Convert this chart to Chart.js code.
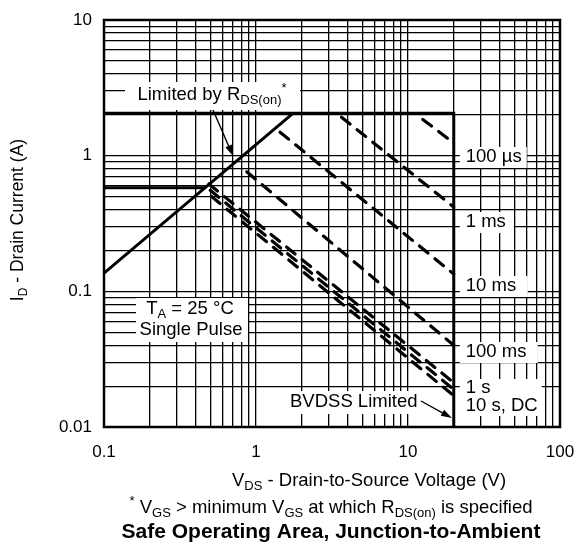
<!DOCTYPE html>
<html>
<head>
<meta charset="utf-8">
<script src="https://cdn.jsdelivr.net/npm/chart.js@4.4.1/dist/chart.umd.min.js"></script>
<style>
  html, body { margin: 0; padding: 0; background: #fff; }
  canvas { display: block; }
</style>
</head>
<body>
<canvas id="soa" width="577" height="546"></canvas>
<script>
// axis ticks
const xTickValues = [0.1, 1, 10, 100];
const xTickLabels = ["0.1", "1", "10", "100"];
const yTickValues = [0.01, 0.1, 1, 10];
const yTickLabels = ["0.01", "0.1", "1", "10"];

// limit lines (V, A)
const rdsV = [0.1, 1.75];
const rdsI = [0.136, 2.05];
const limitV = [0.1, 20, 20];
const limitI = [2.05, 2.05, 0.01];
const dcLimitV = [0.1, 0.46];
const dcLimitI = [0.58, 0.58];

// pulse lines
const pulseNames = ["100 µs", "1 ms", "10 ms", "100 ms", "1 s", "10 s", "DC"];
const pulseStartV = [12.5, 3.65, 1.44, 0.87, 0.49, 0.50, 0.51];
const pulseStartI = [1.85, 1.92, 1.49, 0.76, 0.618, 0.555, 0.50];
const pulseEndV = [20, 20, 20, 20, 20, 20, 20];
const pulseEndI = [1.24, 0.418, 0.134, 0.040, 0.0212, 0.0189, 0.0170];

const FONT = '"Liberation Sans", Arial, Helvetica, sans-serif';

function pts(xs, ys) {
  return xs.map((x, i) => ({ x: x, y: ys[i] }));
}

function solid(xs, ys) {
  return {
    data: pts(xs, ys), showLine: true, pointRadius: 0,
    borderColor: "#000", borderWidth: 3, borderCapStyle: "butt"
  };
}

const datasets = [solid(rdsV, rdsI), solid(limitV, limitI), solid(dcLimitV, dcLimitI)];
pulseNames.forEach((name, i) => {
  datasets.push({
    label: name,
    data: pts([pulseStartV[i], pulseEndV[i]], [pulseStartI[i], pulseEndI[i]]),
    showLine: true, pointRadius: 0,
    borderColor: "#000", borderWidth: 3.2,
    borderDash: [11, 9], borderCapStyle: "round"
  });
});

// 1..9 per decade grid
function logGrid(scale) {
  const ticks = [];
  const e0 = Math.round(Math.log10(scale.min));
  const e1 = Math.round(Math.log10(scale.max));
  for (let e = e0; e < e1; e++) {
    for (let k = 1; k < 10; k++) ticks.push({ value: Number((k * Math.pow(10, e)).toPrecision(3)) });
  }
  ticks.push({ value: scale.max });
  scale.ticks = ticks;
}

function tickLabel(values, labels) {
  return function (v) {
    const i = values.findIndex(t => Math.abs(t - v) < t * 1e-6);
    return i >= 0 ? labels[i] : "";
  };
}

// text with sub/superscripts
function drawRuns(ctx, runs, x, y, size, align, weight) {
  const small = Math.round(size * 0.7);
  const w = weight || "normal";
  let total = 0;
  runs.forEach(r => {
    ctx.font = w + " " + (r.s ? small : size) + "px " + FONT;
    total += ctx.measureText(r.t).width;
  });
  let cx = align === "center" ? x - total / 2 : align === "right" ? x - total : x;
  ctx.textAlign = "left";
  ctx.textBaseline = "middle";
  ctx.fillStyle = "#000";
  runs.forEach(r => {
    ctx.font = w + " " + (r.s ? small : size) + "px " + FONT;
    const dy = r.s === "sub" ? size * 0.32 : r.s === "sup" ? -size * 0.38 : 0;
    ctx.fillText(r.t, cx, y + dy);
    cx += ctx.measureText(r.t).width;
  });
}

function box(ctx, l, t, r, b) {
  ctx.fillStyle = "#fff";
  ctx.fillRect(l, t, r - l, b - t);
}

function arrow(ctx, x0, y0, x1, y1) {
  const a = Math.atan2(y1 - y0, x1 - x0);
  const len = 11, half = 3.5;
  ctx.strokeStyle = "#000";
  ctx.lineWidth = 1.4;
  ctx.beginPath();
  ctx.moveTo(x0, y0);
  ctx.lineTo(x1 - Math.cos(a) * len * 0.8, y1 - Math.sin(a) * len * 0.8);
  ctx.stroke();
  ctx.fillStyle = "#000";
  ctx.beginPath();
  ctx.moveTo(x1, y1);
  ctx.lineTo(x1 - Math.cos(a) * len - Math.sin(a) * half, y1 - Math.sin(a) * len + Math.cos(a) * half);
  ctx.lineTo(x1 - Math.cos(a) * len + Math.sin(a) * half, y1 - Math.sin(a) * len - Math.cos(a) * half);
  ctx.closePath();
  ctx.fill();
}

const notes = {
  id: "notes",
  afterDraw(chart) {
    const ctx = chart.ctx;
    const a = chart.chartArea;
    ctx.save();

    // frame
    ctx.strokeStyle = "#000";
    ctx.lineWidth = 2.5;
    ctx.strokeRect(a.left, a.top, a.right - a.left, a.bottom - a.top);

    const f = 18.5;
    // Limited by RDS(on)*
    box(ctx, 125, 82, 300, 110);
    drawRuns(ctx, [{ t: "Limited by R" }, { t: "DS(on)", s: "sub" }, { t: "*", s: "sup" }], 212, 95, f, "center");
    arrow(ctx, 213, 110, 233, 156);

    // pulse labels
    const lx = chart.scales.x.getPixelForValue(20) + 12;
    box(ctx, lx - 6, 147, lx + 61, 168);
    drawRuns(ctx, [{ t: "100 µs" }], lx, 157, f, "left");
    box(ctx, lx - 6, 212, lx + 48, 233);
    drawRuns(ctx, [{ t: "1 ms" }], lx, 222, f, "left");
    box(ctx, lx - 6, 276, lx + 62, 297);
    drawRuns(ctx, [{ t: "10 ms" }], lx, 286, f, "left");
    box(ctx, lx - 6, 342, lx + 72, 363);
    drawRuns(ctx, [{ t: "100 ms" }], lx, 352, f, "left");
    box(ctx, lx - 6, 379, lx + 76, 416);
    drawRuns(ctx, [{ t: "1 s" }], lx, 388, f, "left");
    drawRuns(ctx, [{ t: "10 s, DC" }], lx, 406, f, "left");

    // BVDSS
    box(ctx, 285, 391, 421, 414);
    drawRuns(ctx, [{ t: "BVDSS Limited" }], 290, 402, f, "left");
    arrow(ctx, 421, 401, 452, 418);

    // TA
    box(ctx, 136, 298, 248, 342);
    drawRuns(ctx, [{ t: "T" }, { t: "A", s: "sub" }, { t: " = 25 °C" }], 190, 309, f, "center");
    drawRuns(ctx, [{ t: "Single Pulse" }], 191, 330, f, "center");

    // axis titles and captions
    drawRuns(ctx, [{ t: "V" }, { t: "DS", s: "sub" }, { t: " - Drain-to-Source Voltage (V)" }], 369, 481, 18.5, "center");
    drawRuns(ctx, [{ t: "*", s: "sup" }, { t: " V" }, { t: "GS", s: "sub" }, { t: " > minimum V" }, { t: "GS", s: "sub" },
      { t: " at which R" }, { t: "DS(on)", s: "sub" }, { t: " is specified" }], 331, 508, 18.5, "center");
    drawRuns(ctx, [{ t: "Safe Operating Area, Junction-to-Ambient" }], 331, 532, 21, "center", "bold");

    ctx.translate(18, 220);
    ctx.rotate(-Math.PI / 2);
    drawRuns(ctx, [{ t: "I" }, { t: "D", s: "sub" }, { t: " - Drain Current (A)" }], 0, 0, 17.5, "center");
    ctx.restore();
  }
};

// tick marks stay invisible; their length only spaces the labels
function gridOpts(len) {
  return { color: "#000", lineWidth: 1.3, drawTicks: true, tickLength: len, tickColor: "rgba(0,0,0,0)" };
}

new Chart(document.getElementById("soa").getContext("2d"), {
  type: "scatter",
  data: { datasets: datasets },
  options: {
    responsive: false,
    animation: false,
    layout: { padding: { top: 20, right: 17, left: 0, bottom: 0 } },
    plugins: { legend: { display: false }, tooltip: { enabled: false } },
    scales: {
      x: {
        type: "logarithmic", min: 0.1, max: 100,
        afterBuildTicks: logGrid,
        afterFit(s) { s.height = 119; },
        grid: gridOpts(15),
        border: { display: false },
        ticks: {
          autoSkip: false, maxRotation: 0, padding: 0, color: "#000",
          font: { family: FONT, size: 17 },
          callback: tickLabel(xTickValues, xTickLabels)
        }
      },
      y: {
        type: "logarithmic", min: 0.01, max: 10,
        afterBuildTicks: logGrid,
        afterFit(s) { s.width = 104; },
        grid: gridOpts(12),
        border: { display: false },
        ticks: {
          autoSkip: false, padding: 0, color: "#000",
          font: { family: FONT, size: 17 },
          callback: tickLabel(yTickValues, yTickLabels)
        }
      }
    }
  },
  plugins: [notes]
});
</script>
</body>
</html>
